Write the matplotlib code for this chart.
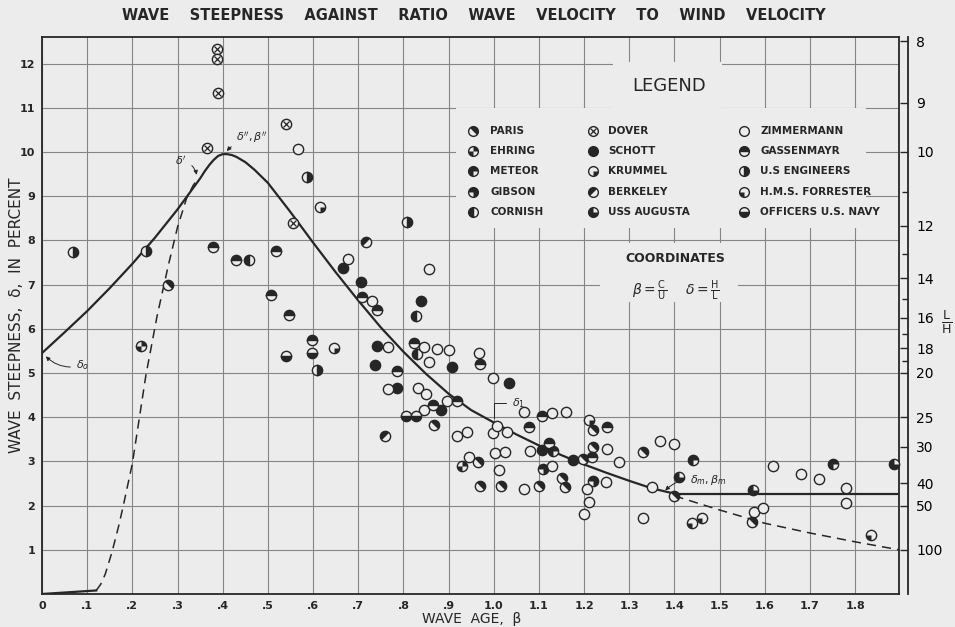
import numpy as np
import matplotlib
matplotlib.use("Agg")
import matplotlib.pyplot as plt
from matplotlib.path import Path
from matplotlib.patches import Rectangle

INK = "#262626"
BG = "#ececec"
GRID = "#858585"
MS = 7.4

# observations, (wave age beta, steepness delta in percent) per source
paris_b = [0.279, 0.867, 0.965, 0.969, 1.016, 1.100, 1.150, 1.157, 1.197, 1.219, 1.219, 1.330, 1.398, 1.571]
paris_d = [6.99, 3.82, 2.99, 2.44, 2.44, 2.44, 2.62, 2.42, 3.05, 3.71, 3.33, 3.21, 2.22, 1.63]
ehring_b = [0.219, 0.929]
ehring_d = [5.61, 2.90]
meteor_b = [1.131, 1.440, 1.750]
meteor_d = [3.24, 3.03, 2.94]
gibson_b = [1.108, 1.219]
gibson_d = [2.83, 2.56]
cornish_b = [0.458, 0.827, 0.830]
cornish_d = [7.56, 6.29, 5.43]
dover_b = [0.388, 0.387, 0.390, 0.366, 0.540, 0.556]
dover_d = [12.33, 12.10, 11.34, 10.10, 10.63, 8.40]
schott_b = [0.666, 0.706, 0.838, 0.741, 0.737, 0.785, 0.907, 1.033, 0.883, 1.106, 1.175]
schott_d = [7.38, 7.06, 6.63, 5.61, 5.18, 4.66, 5.14, 4.77, 4.16, 3.26, 3.03]
krummel_b = [0.615, 0.646, 1.210]
krummel_d = [8.76, 5.57, 3.94]
berkeley_b = [0.717, 0.759]
berkeley_d = [7.96, 3.57]
augusta_b = [1.410, 1.573, 1.887]
augusta_d = [2.65, 2.35, 2.94]
zimmermann_b = [0.567, 0.677, 0.856, 0.730, 0.766, 0.845, 0.874, 0.900, 0.856, 0.832, 0.766,
                0.850, 0.845, 0.896, 0.967, 0.998, 1.068, 0.918, 0.940, 0.998, 1.007, 1.029,
                0.945, 1.002, 1.024, 1.011, 1.128, 1.159, 1.080, 1.128, 1.066, 1.250, 1.248,
                1.206, 1.210, 1.200, 1.277, 1.369, 1.398, 1.350, 1.330, 1.575, 1.595, 1.617,
                1.681, 1.719, 1.780, 1.780]
zimmermann_d = [10.07, 7.58, 7.35, 6.63, 5.59, 5.59, 5.54, 5.52, 5.25, 4.66, 4.64,
                4.52, 4.16, 4.37, 5.45, 4.89, 4.12, 3.57, 3.66, 3.64, 3.80, 3.66,
                3.10, 3.19, 3.21, 2.81, 4.09, 4.12, 3.24, 2.90, 2.38, 3.28, 2.53,
                2.38, 2.08, 1.81, 2.99, 3.46, 3.39, 2.42, 1.72, 1.86, 1.95, 2.90,
                2.71, 2.60, 2.40, 2.06]
gassenmayr_b = [0.379, 0.429, 0.518, 0.508, 0.547, 0.598, 0.708, 0.741, 0.786, 0.823,
                0.969, 1.077, 0.865, 0.918, 1.106, 1.122, 1.250, 1.217]
gassenmayr_d = [7.86, 7.56, 7.77, 6.77, 6.31, 5.75, 6.72, 6.42, 5.05, 5.68,
                5.20, 3.78, 4.28, 4.37, 4.03, 3.42, 3.78, 3.10]
engineers_b = [0.069, 0.230, 0.586, 0.608, 0.807]
engineers_d = [7.74, 7.77, 9.43, 5.07, 8.42]
forrester_b = [1.438, 1.462, 1.836]
forrester_d = [1.60, 1.72, 1.33]
navy_b = [0.540, 0.598, 0.805, 0.827]
navy_d = [5.38, 5.45, 4.03, 4.03]

# curves
solid_b = [0.0, 0.05, 0.10, 0.15, 0.20, 0.25, 0.30, 0.33, 0.35, 0.36, 0.37, 0.38, 0.39,
           0.40, 0.41, 0.42, 0.43, 0.45, 0.47, 0.50, 0.55, 0.60, 0.65, 0.70, 0.75, 0.80,
           0.85, 0.90, 0.95, 1.00, 1.05, 1.10, 1.15, 1.20, 1.25, 1.30, 1.35, 1.40]
solid_d = [5.45, 5.92, 6.40, 6.92, 7.47, 8.06, 8.70, 9.12, 9.40, 9.56, 9.70, 9.82, 9.91,
           9.95, 9.95, 9.93, 9.89, 9.77, 9.60, 9.30, 8.64, 7.95, 7.28, 6.64, 6.03, 5.48,
           4.98, 4.53, 4.16, 3.88, 3.61, 3.36, 3.14, 2.93, 2.74, 2.56, 2.39, 2.27]
plateau_b = [1.40, 1.897]
plateau_d = [2.27, 2.27]
rise_b = [0.12, 0.13, 0.14, 0.155, 0.17, 0.18, 0.20, 0.23, 0.255, 0.28, 0.30, 0.32, 0.335, 0.345]
rise_d = [0.08, 0.22, 0.45, 0.95, 1.55, 2.00, 2.95, 4.95, 6.30, 7.45, 8.30, 8.95, 9.25, 9.38]
foot_b = [0.0, 0.12]
foot_d = [0.0, 0.08]
tail_b = [1.40, 1.50, 1.60, 1.70, 1.80, 1.897]
tail_d = [2.22, 1.90, 1.60, 1.38, 1.18, 1.00]

XTICK_LABELS = ["0", ".1", ".2", ".3", ".4", ".5", ".6", ".7", ".8", ".9",
                "1.0", "1.1", "1.2", "1.3", "1.4", "1.5", "1.6", "1.7", "1.8"]
LH_TICKS = [8, 9, 10, 12, 14, 16, 18, 20, 25, 30, 40, 50, 100]
LH_MINOR = [11, 13, 15, 17, 19]


def sector(a0, a1):
    t = np.radians(np.linspace(a0, a1, 48))
    v = np.column_stack([np.r_[0, np.cos(t), 0], np.r_[0, np.sin(t), 0]])
    codes = [Path.MOVETO] + [Path.LINETO] * (len(v) - 2) + [Path.CLOSEPOLY]
    return Path(v, codes)


def wedges(*pairs):
    return Path.make_compound_path(*[sector(a, b) for a, b in pairs])


SOURCES = [
    ("PARIS", paris_b, paris_d, wedges((-45, 135))),
    ("EHRING", ehring_b, ehring_d, wedges((0, 90), (180, 270))),
    ("METEOR", meteor_b, meteor_d, wedges((0, 270))),
    ("GIBSON", gibson_b, gibson_d, wedges((-90, 180))),
    ("CORNISH", cornish_b, cornish_d, "left"),
    ("DOVER", dover_b, dover_d, "x"),
    ("SCHOTT", schott_b, schott_d, "full"),
    ("KRUMMEL", krummel_b, krummel_d, wedges((270, 360))),
    ("BERKELEY", berkeley_b, berkeley_d, wedges((45, 225))),
    ("USS AUGUSTA", augusta_b, augusta_d, wedges((90, 360))),
    ("ZIMMERMANN", zimmermann_b, zimmermann_d, "open"),
    ("GASSENMAYR", gassenmayr_b, gassenmayr_d, "top"),
    ("U.S ENGINEERS", engineers_b, engineers_d, "right"),
    ("H.M.S. FORRESTER", forrester_b, forrester_d, wedges((180, 270))),
    ("OFFICERS U.S. NAVY", navy_b, navy_d, "bottom"),
]


def mark(ax, xs, ys, kind, **kw):
    base = dict(ls="none", marker="o", ms=MS, mec=INK, mew=1.0, zorder=4, clip_on=False)
    base.update(kw)
    if kind == "full":
        ax.plot(xs, ys, mfc=INK, **base)
    elif kind in ("left", "right", "top", "bottom"):
        ax.plot(xs, ys, fillstyle=kind, mfc=INK, markerfacecoloralt=BG, **base)
    else:
        ax.plot(xs, ys, mfc=BG, **base)
        if kind == "x":
            over = dict(base, marker="x", ms=base["ms"] * 0.55, mew=0.9, zorder=5)
            ax.plot(xs, ys, **over)
        elif isinstance(kind, Path):
            over = dict(base, marker=kind, mec="none", mew=0, zorder=5)
            ax.plot(xs, ys, mfc=INK, **over)


plt.rcParams["font.family"] = "DejaVu Sans"
plt.rcParams["mathtext.fontset"] = "dejavusans"

fig = plt.figure(figsize=(9.55, 6.27), dpi=100, facecolor=BG)
L, R, T, B = 42, 899, 37, 594
ax = fig.add_axes([L / 955, 1 - B / 627, (R - L) / 955, (B - T) / 627])
ax.set_facecolor(BG)
ax.set_xlim(0, 1.897)
ax.set_ylim(0, 12.6)


def px(x, y):
    return (x - L) / (R - L), (B - y) / (B - T)


ax.set_xticks(np.arange(len(XTICK_LABELS)) / 10)
ax.set_xticklabels(XTICK_LABELS, fontsize=8, fontweight="bold", color=INK)
ax.set_yticks(range(13))
ax.set_yticklabels([""] + [str(i) for i in range(1, 13)], fontsize=8, fontweight="bold", color=INK)
ax.tick_params(length=0, pad=5)
ax.set_axisbelow(True)
ax.grid(True, color=GRID, lw=0.8)
for s in ax.spines.values():
    s.set_color(INK)
    s.set_linewidth(1.3)

# blank patches where the legend block interrupts the grid
for x0, y0, x1, y1 in [(456, 108, 866, 228), (613, 62, 722, 108), (600, 243, 738, 302)]:
    a, b = px(x0, y1)
    c, d = px(x1, y0)
    ax.add_patch(Rectangle((a, b), c - a, d - b, transform=ax.transAxes,
                           facecolor=BG, edgecolor="none", zorder=1))

ax.plot(solid_b, solid_d, color=INK, lw=1.6, zorder=3, solid_joinstyle="round")
ax.plot(plateau_b, plateau_d, color=INK, lw=1.6, zorder=3)
ax.plot(foot_b, foot_d, color=INK, lw=1.6, zorder=3)
ax.plot(rise_b, rise_d, color=INK, lw=1.1, ls=(0, (6, 4)), zorder=3)
ax.plot(tail_b, tail_d, color=INK, lw=1.1, ls=(0, (6, 4)), zorder=3)

for name, xs, ys, kind in SOURCES:
    mark(ax, xs, ys, kind)

arrow = dict(arrowstyle="-|>", lw=0.7, color=INK, mutation_scale=6)
ax.annotate(r"$\delta_o$", xy=(0.004, 5.42), xytext=(0.075, 5.1), fontsize=8, color=INK,
            arrowprops=dict(arrow, connectionstyle="arc3,rad=-0.3"))
ax.annotate(r"$\delta^{\prime}$", xy=(0.343, 9.42), xytext=(0.295, 9.7), fontsize=8, color=INK,
            arrowprops=dict(arrow, connectionstyle="arc3,rad=-0.4"))
ax.annotate(r"$\delta^{\prime\prime},\beta^{\prime\prime}$", xy=(0.405, 9.97), xytext=(0.43, 10.25),
            fontsize=8, color=INK, arrowprops=dict(arrow, connectionstyle="arc3,rad=0.2"))
ax.annotate(r"$\delta_1$", xy=(1.0, 3.92), xytext=(1.04, 4.25), fontsize=8, color=INK,
            arrowprops=dict(arrowstyle="-", lw=0.7, color=INK, connectionstyle="angle,angleA=0,angleB=90"))
ax.annotate(r"$\delta_m,\beta_m$", xy=(1.375, 2.3), xytext=(1.435, 2.5), fontsize=8, color=INK,
            arrowprops=dict(arrow, connectionstyle="arc3,rad=0.3"))

# legend block
ax.text(*px(669, 86), "LEGEND", transform=ax.transAxes, fontsize=13, color=INK,
        ha="center", va="center")
cols = [(473, 490), (593, 608), (744, 760)]
rows = [131, 151, 171, 192, 212]
for i, (name, xs, ys, kind) in enumerate(SOURCES):
    mx, tx = cols[i // 5]
    yy = rows[i % 5]
    mark(ax, [px(mx, yy)[0]], [px(mx, yy)[1]], kind, transform=ax.transAxes, ms=7.0)
    ax.text(*px(tx, yy), name, transform=ax.transAxes, fontsize=7.5, fontweight="bold",
            color=INK, ha="left", va="center")
ax.text(*px(675, 259), "COORDINATES", transform=ax.transAxes, fontsize=9, fontweight="bold",
        color=INK, ha="center", va="center")
ax.text(*px(650, 291), r"$\beta=\frac{\mathrm{C}}{\mathrm{U}}$", transform=ax.transAxes,
        fontsize=10, color=INK, ha="center", va="center")
ax.text(*px(702, 291), r"$\delta=\frac{\mathrm{H}}{\mathrm{L}}$", transform=ax.transAxes,
        fontsize=10, color=INK, ha="center", va="center")

# L/H scale on the right
ax2 = ax.twinx()
ax2.set_ylim(ax.get_ylim())
ax2.set_yticks([100 / v for v in LH_TICKS])
ax2.set_yticklabels([str(v) for v in LH_TICKS], fontsize=8, fontweight="bold", color=INK)
ax2.set_yticks([100 / v for v in LH_MINOR], minor=True)
ax2.tick_params(axis="y", which="both", direction="in", length=6, width=1, pad=6, color=INK)
ax2.tick_params(axis="y", which="minor", length=4)
for k, s in ax2.spines.items():
    s.set_visible(k == "right")
ax2.spines["right"].set_position(("outward", 6.5))
ax2.spines["right"].set_color(INK)
ax2.spines["right"].set_linewidth(1.3)

fig.text(947 / 955, 1 - 322 / 627, r"$\frac{\mathrm{L}}{\mathrm{H}}$", fontsize=13, color=INK,
         ha="center", va="center")
fig.text(474 / 955, 1 - 15 / 627,
         "WAVE    STEEPNESS    AGAINST    RATIO    WAVE    VELOCITY    TO    WIND    VELOCITY",
         fontsize=10.5, fontweight="bold", color=INK, ha="center", va="center")
fig.text(17 / 955, 1 - 315 / 627, "WAVE  STEEPNESS,  δ,  IN  PERCENT", rotation=90,
         fontsize=11, color=INK, ha="center", va="center")
fig.text(472 / 955, 1 - 619 / 627, "WAVE  AGE,  β", fontsize=10, color=INK,
         ha="center", va="center")

fig.savefig("out.png", dpi=100, facecolor=BG)
